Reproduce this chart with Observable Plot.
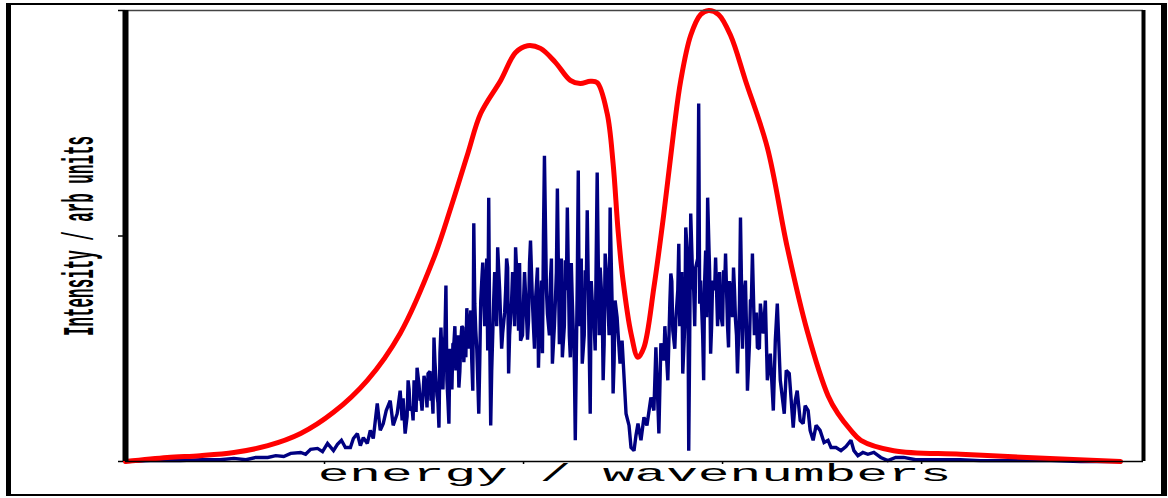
<!DOCTYPE html>
<html>
<head>
<meta charset="utf-8">
<script src="https://cdn.jsdelivr.net/npm/d3@7"></script>
<script src="https://cdn.jsdelivr.net/npm/@observablehq/plot@0.6"></script>
<style>
  html, body { margin: 0; padding: 0; background: #fff; }
  #wrap { position: relative; width: 1168px; height: 498px; }
  #wrap svg { position: absolute; left: 0; top: 0; }
  #outer { position: absolute; left: 6px; top: 3px; width: 1161px; height: 493px; box-sizing: border-box;
           border-left: 5px solid #000; border-right: 6px solid #000; border-top: 2px solid #000; border-bottom: 2px solid #000;
           pointer-events: none; }
</style>
</head>
<body>
<div id="wrap"><div id="outer"></div></div>
<script>
// Envelope (red) – energy (arb.) and intensity (% of max)
const envEnergy = [0, 42, 75, 109, 143, 176, 209, 243, 276, 310, 327, 344, 357, 377, 392, 404, 417, 432, 447, 457, 467, 474, 484, 490, 495, 500, 508, 515, 521, 531, 541, 551, 558, 568, 578, 586, 596, 608, 623, 645, 665, 685, 706, 716, 729, 739, 772, 839, 906, 1000];
const envIntensity = [0, 0.9, 1.3, 2.0, 3.5, 6.2, 10.9, 18.0, 28.4, 45.2, 56.3, 68.3, 77.2, 84.5, 90.7, 92.2, 91.6, 88.5, 84.5, 83.8, 84.3, 84.0, 77.2, 66.1, 51.2, 40.1, 28.4, 23.1, 25.3, 38.6, 55.0, 73.4, 84.5, 94.5, 99.1, 100, 99.1, 94.5, 84.5, 69.6, 47.5, 29.0, 14.6, 10.6, 6.9, 4.7, 2.4, 1.6, 0.9, 0];

// Spectrum (blue) – main peaks and troughs
const specEnergy = [
  0, 25, 55, 75, 95, 109, 121, 131, 143, 151, 159, 166, 176, 181, 186, 193, 198, 203, 209, 213,
  217, 221, 226, 229, 233, 236, 239, 243, 246, 249, 253, 256, 259, 262, 266, 269, 273, 276, 278, 281,
  284, 286, 289, 291, 293, 296, 298, 302, 304, 307, 309, 310, 313, 315, 317, 320, 322, 324, 325, 327,
  330, 332, 335, 337, 339, 342, 344, 347, 349, 350, 352, 355, 357, 359, 362, 364, 365, 367, 370, 372,
  374, 377, 379, 382, 384, 385, 388, 390, 392, 395, 397, 400, 402, 405, 407, 410, 412, 415, 418, 421,
  424, 427, 429, 432, 434, 437, 439, 442, 444, 447, 449, 452, 455, 457, 459, 462, 464, 467, 469, 472,
  474, 477, 480, 482, 485, 487, 490, 492, 495, 497, 499, 503, 506, 508, 511, 513, 515, 518, 521, 524,
  528, 531, 533, 536, 538, 541, 545, 548, 550, 553, 556, 558, 560, 563, 566, 568, 571, 573, 576, 578,
  581, 583, 585, 588, 590, 593, 596, 598, 601, 603, 606, 608, 611, 613, 615, 618, 621, 623, 625, 628,
  630, 633, 635, 638, 641, 643, 645, 648, 651, 653, 655, 658, 662, 664, 667, 669, 671, 673, 675, 678,
  681, 683, 686, 688, 691, 694, 698, 702, 706, 709, 714, 719, 724, 729, 732, 736, 741, 746, 752, 759,
  766, 774, 782, 794, 809, 824, 839, 859, 879, 905, 930, 960, 1000];
const specIntensity = [
  0, 0.2, 0.2, 0.4, 0.4, 0.7, 0.4, 0.9, 0.9, 1.3, 1.1, 1.8, 2.0, 1.6, 2.7, 2.9, 2.2, 4.0, 2.4, 3.8,
  4.7, 3.1, 3.1, 5.1, 6.2, 3.5, 5.3, 4.0, 6.9, 5.1, 12.9, 6.9, 8.4, 11.3, 13.5, 8.0, 10.6, 15.7, 9.1, 6.2,
  18.0, 11.3, 9.1, 14.6, 20.8, 13.5, 11.3, 15.7, 19.5, 13.5, 10.6, 27.5, 14.6, 7.5, 29.7, 24.6, 39.0, 13.5, 8.4, 20.2,
  26.2, 20.2, 16.4, 26.8, 29.7, 23.1, 29.0, 33.5, 15.7, 52.8, 29.0, 10.6, 35.7, 44.1, 37.3, 24.6, 58.5, 8.0, 35.7, 40.1,
  47.5, 31.3, 28.4, 37.9, 43.0, 19.5, 35.7, 40.1, 47.5, 29.0, 26.8, 35.7, 37.3, 31.3, 49.0, 29.7, 35.7, 20.8, 40.1, 67.8,
  32.8, 40.1, 21.7, 35.7, 60.5, 31.3, 23.1, 44.6, 56.3, 23.1, 35.7, 4.7, 64.5, 35.7, 21.7, 42.4, 55.7, 10.6, 35.7, 24.6,
  64.1, 43.0, 18.0, 46.1, 33.5, 56.3, 15.1, 35.7, 28.4, 21.7, 26.8, 10.6, 8.0, 3.1, 2.4, 5.8, 8.4, 4.7, 9.8, 8.0,
  14.2, 11.3, 25.3, 6.2, 26.2, 22.4, 18.0, 41.7, 29.0, 31.3, 48.3, 35.7, 19.5, 51.9, 2.4, 55.0, 37.9, 43.0, 79.4, 40.1,
  18.0, 46.8, 58.5, 23.9, 40.1, 45.2, 35.7, 32.8, 42.4, 46.1, 25.3, 37.9, 43.0, 31.3, 19.5, 54.1, 32.8, 40.1, 15.7, 35.7,
  46.1, 31.3, 25.3, 35.0, 28.4, 35.7, 18.0, 23.9, 11.3, 26.8, 35.0, 18.0, 10.6, 20.2, 19.5, 13.5, 7.5, 13.5, 15.7, 9.1,
  8.4, 12.4, 11.3, 6.9, 4.7, 8.0, 6.9, 4.2, 4.7, 3.1, 3.1, 2.4, 3.3, 4.7, 2.4, 1.3, 2.0, 1.6, 2.0, 0.9,
  0.2, 0.9, 0.9, 0.4, 0.4, 0.4, 0.4, 0.2, 0.2, 0.2, 0.2, 0, 0];

// Spectrum (blue) – extra readings inside the dense bands
const denseEnergy = [
  279, 283, 285, 288, 290, 292, 295, 297, 300, 303, 306, 308, 311, 314, 316, 319, 321, 323, 326, 328,
  329, 331, 333, 334, 336, 338, 340, 341, 343, 345, 346, 348, 351, 353, 354,
  356, 358, 361, 363, 366, 368, 371, 373, 376, 378, 381, 383, 386, 389, 391, 394, 396, 399, 401, 404,
  406, 409, 411, 414, 416, 419, 420, 423, 426, 428, 431, 433, 436, 438, 441, 443, 446, 448, 451, 454,
  456, 458, 461, 463, 466, 468, 471, 473, 476, 479, 481, 484, 486, 489, 491, 494,
  542, 544, 547, 549, 552, 555, 557, 559, 562, 565, 567, 570, 572, 575, 577, 580, 582, 584, 587, 589,
  592, 595, 597, 600, 602, 605, 607, 610, 612, 614, 617, 620, 622, 624, 627, 629, 632, 634, 637, 640];
const denseIntensity = [
  14, 10, 16, 12, 18, 11, 17, 14, 19, 12, 20, 15, 22, 13, 24, 16, 28, 18, 25, 16,
  26, 30, 22, 28, 20, 30, 22, 27, 34, 25, 30, 22, 35, 25, 18,
  22, 40, 30, 45, 28, 20, 42, 30, 38, 25, 33, 45, 28, 42, 30, 38, 44, 28, 42, 27,
  44, 35, 25, 43, 30, 24, 50, 38, 28, 45, 30, 42, 26, 45, 30, 38, 28, 44, 22, 40,
  30, 45, 28, 38, 25, 40, 30, 45, 28, 35, 26, 40, 28, 35, 22, 32,
  30, 22, 35, 40, 25, 38, 30, 42, 30, 45, 28, 40, 30, 45, 35, 28, 40, 32, 42, 30,
  38, 30, 42, 30, 38, 30, 40, 32, 38, 28, 35, 25, 38, 30, 26, 36, 28, 33, 25, 30];

const xTicks = [0, 200, 400, 600, 800, 1000];
const yTicks = [0, 50, 100];
const xLabel = "energy / wavenumbers";
const yLabel = "Intensity / arb units";

const envelope = envEnergy.map((e, i) => ({energy: e, intensity: envIntensity[i]}));
const spectrum = specEnergy.map((e, i) => ({energy: e, intensity: specIntensity[i], k: 0}))
  .concat(denseEnergy.map((e, i) => ({energy: e, intensity: denseIntensity[i], k: 1})))
  .sort((a, b) => a.energy - b.energy || a.k - b.k);

const chart = Plot.plot({
  width: 1168,
  height: 498,
  marginLeft: 125,
  marginRight: 25,
  marginTop: 10,
  marginBottom: 37,
  x: {domain: [0, 1023]},
  y: {domain: [0, 100]},
  style: {background: "transparent", fontFamily: "Liberation Mono"},
  marks: [
    Plot.axisX({ticks: xTicks, tickSize: 3, tickFormat: () => "", label: null, strokeWidth: 1.5}),
    Plot.axisY({ticks: yTicks, tickSize: 7, tickFormat: () => "", label: null, strokeWidth: 1.5}),
    Plot.line(spectrum, {x: "energy", y: "intensity", stroke: "#000080", strokeWidth: 3.4, strokeLinejoin: "miter", strokeMiterlimit: 2}),
    Plot.line(envelope, {x: "energy", y: "intensity", stroke: "#ff0000", strokeWidth: 5, curve: "catmull-rom"}),
    Plot.ruleY([0], {stroke: "#000", strokeWidth: 1.5}),
    Plot.ruleY([100], {stroke: "#444", strokeWidth: 1.5}),
    Plot.ruleX([0], {stroke: "#000", strokeWidth: 6}),
    Plot.ruleX([1023], {stroke: "#000", strokeWidth: 4}),
    Plot.text([yLabel], {text: d => d, frameAnchor: "left", textAnchor: "middle", rotate: -90, dx: -47, fontSize: 44, fontWeight: "bold", fontFamily: "Liberation Mono", fill: "#000"}),
    Plot.text([xLabel], {text: d => d, frameAnchor: "bottom", textAnchor: "middle", lineAnchor: "bottom", dy: 19, fontSize: 23, fontFamily: "Liberation Mono", fill: "#000"})
  ]
});

const wrap = document.getElementById("wrap");
wrap.insertBefore(chart, wrap.firstChild);

// squeeze / stretch the axis titles along their own reading direction
function fitText(el, target) {
  const w = el.getComputedTextLength();
  if (!w) return;
  const s = target / w;
  const tr = el.getAttribute("transform") || "";
  el.setAttribute("transform", `${tr} scale(${s},1)`);
}
d3.select(chart).selectAll("text").each(function() {
  const t = this.textContent;
  if (t === yLabel) fitText(this, 200);
  else if (t === xLabel) fitText(this, 634);
});
</script>
</body>
</html>
